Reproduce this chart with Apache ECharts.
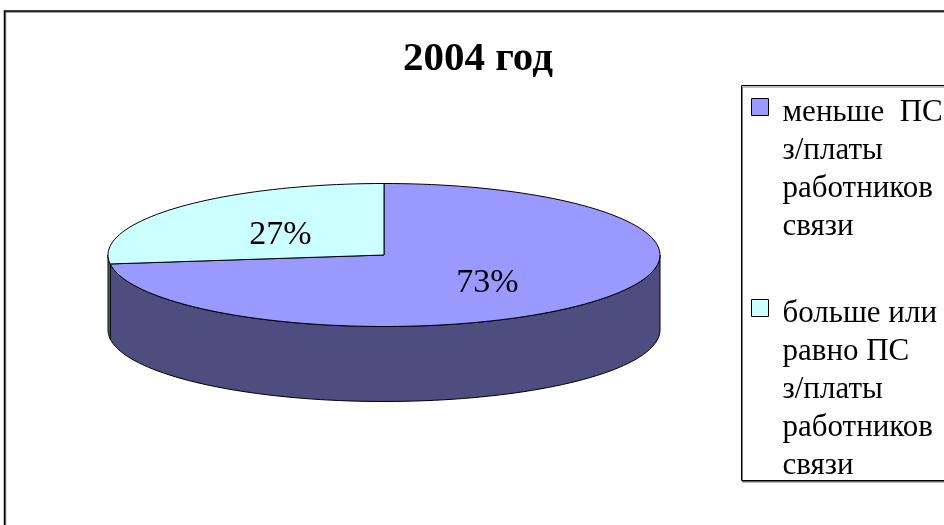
<!DOCTYPE html>
<html>
<head>
<meta charset="utf-8">
<title>2004 год</title>
<script src="https://cdn.jsdelivr.net/npm/echarts@6/dist/echarts.min.js"></script>
<style>
    html, body { margin: 0; padding: 0; background: #fff; }
    #chartPie { width: 944px; height: 525px; }
</style>
</head>
<body>
<div id="chartPie"></div>
<script>
// данные
var categories = ['меньше  ПС\nз/платы\nработников\nсвязи', 'больше или\nравно ПС\nз/платы\nработников\nсвязи'];
var shares = [73, 27];
var labels = ['73%', '27%'];

var topColors = ['#9999FF', '#CCFFFF'];
var sideColors = ['#4D4D80', '#668080'];

// 3d-пирог: центр, полуоси, высота
var CX = 384, CY = 255, RX = 276, RY = 71.5, DEPTH = 75;
var serif = 'Liberation Serif';

function total() {
    var s = 0;
    for (var i = 0; i < shares.length; i++) s += shares[i];
    return s;
}

function arc(a0, a1, dy) {
    var pts = [];
    var n = Math.max(2, Math.ceil((a1 - a0) / (Math.PI / 90)));
    for (var k = 0; k <= n; k++) {
        var a = a0 + (a1 - a0) * k / n;
        pts.push([CX + RX * Math.cos(a), CY + RY * Math.sin(a) + dy]);
    }
    return pts;
}

function renderSlice(params, api) {
    var i = params.seriesIndex;
    var sum = total();
    var before = 0;
    for (var j = 0; j < i; j++) before += shares[j];
    var a0 = -Math.PI / 2 + before / sum * Math.PI * 2;
    var a1 = a0 + api.value(0) / sum * Math.PI * 2;
    var children = [];

    // боковая стенка (видна только передняя половина)
    [[0, Math.PI], [Math.PI * 2, Math.PI * 3]].forEach(function (r) {
        var s0 = Math.max(a0, r[0]), s1 = Math.min(a1, r[1]);
        if (s1 > s0) {
            var pts = arc(s0, s1, 0).concat(arc(s0, s1, DEPTH).reverse());
            children.push({
                type: 'polygon', z2: 1,
                shape: { points: pts },
                style: { fill: sideColors[i], stroke: '#000', lineWidth: 1 }
            });
        }
    });

    // верх
    children.push({
        type: 'polygon', z2: 10,
        shape: { points: [[CX, CY]].concat(arc(a0, a1, 0)) },
        style: { fill: topColors[i], stroke: '#000', lineWidth: 1 }
    });

    var am = (a0 + a1) / 2;
    children.push({
        type: 'text', z2: 20,
        x: CX + RX * 0.5 * Math.cos(am),
        y: CY + RY * 0.5 * Math.sin(am) + 4,
        style: {
            text: labels[i], fill: '#000',
            font: '34px "' + serif + '"',
            align: 'center', verticalAlign: 'middle'
        }
    });
    return { type: 'group', children: children };
}

var series = categories.map(function (name, i) {
    return {
        name: name,
        type: 'custom',
        coordinateSystem: 'none',
        silent: true,
        itemStyle: { color: topColors[i] },
        renderItem: renderSlice,
        data: [[shares[i]]]
    };
});

function legendFor(idx, top, lines) {
    var h = lines * 38;
    return {
        data: [categories[idx]],
        orient: 'vertical',
        left: 751,
        top: top,
        padding: 0,
        selectedMode: false,
        itemWidth: 26,
        itemHeight: h,
        icon: 'path://M0,0M0,5H17V22H0ZM26,' + h,
        itemStyle: { borderColor: '#000', borderWidth: 1 },
        textStyle: { fontFamily: serif, fontSize: 31, lineHeight: 38, color: '#000' }
    };
}

var option = {
    animation: false,
    title: {
        text: '2004 год',
        left: 403,
        top: 39,
        padding: 0,
        textStyle: { fontFamily: serif, fontSize: 41, fontWeight: 'bold', color: '#000' }
    },
    legend: [
        legendFor(0, 93, 4),
        legendFor(1, 294, 5)
    ],
    graphic: [
        {
            type: 'rect', z: -1,
            shape: { x: 4.5, y: 11, width: 980, height: 540 },
            style: { fill: 'none', stroke: '#000', lineWidth: 1.5, shadowColor: 'rgba(0,0,0,0.5)', shadowOffsetX: 1, shadowOffsetY: 1 }
        },
        {
            type: 'rect', z: -1,
            shape: { x: 741.5, y: 85.5, width: 260, height: 395 },
            style: { fill: '#fff', stroke: '#000', lineWidth: 1, shadowColor: 'rgba(0,0,0,0.5)', shadowOffsetX: 1, shadowOffsetY: 1.5 }
        }
    ],
    series: series
};

var chart = echarts.init(document.getElementById('chartPie'));
chart.setOption(option);
window.addEventListener('resize', function () {
    chart.resize();
});
</script>
</body>
</html>
